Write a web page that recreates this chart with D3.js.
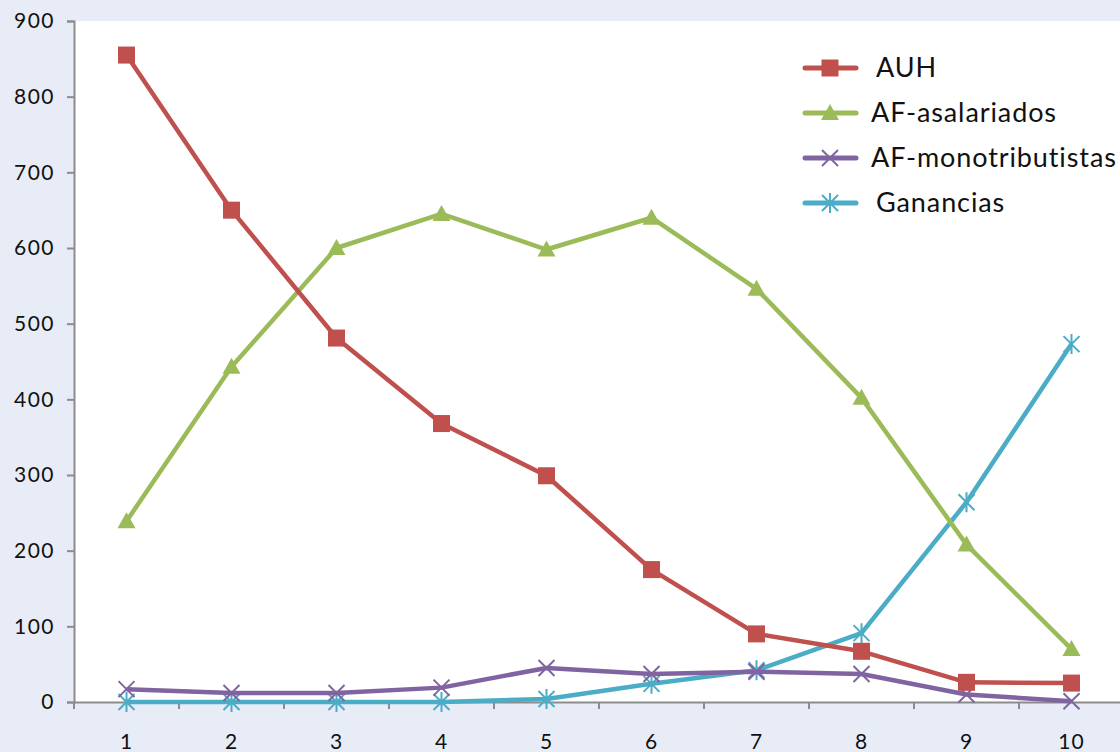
<!DOCTYPE html>
<html><head><meta charset="utf-8">
<script src="https://cdn.jsdelivr.net/npm/d3@7"></script>
<style>
html,body{margin:0;padding:0;background:#e8ecf6;}
svg{display:block;}
text{font-family:"Lato","Noto Sans",sans-serif;fill:#111;}
</style></head><body>
<svg id="c" width="1120" height="752"></svg>
<script>
const categories = ["1","2","3","4","5","6","7","8","9","10"];
const yTicks = [0,100,200,300,400,500,600,700,800,900];
const seriesNames = ["AUH","AF-asalariados","AF-monotributistas","Ganancias"];
const auh = [855,650,481,368,299,175,90,67,26,25];
const asalariados = [239,443,600,645,598,640,546,402,208,70];
const monotributistas = [17,12,12,19,45,37,40,37,10,1];
const ganancias = [0,0,0,0,4,24,42,91,264,473];
const colors = ["#c0504d","#9bbb59","#8064a2","#4bacc6"];
const markers = ["square","triangle","x","asterisk"];

const svg = d3.select("#c");
const mLeft = 74, mTop = 21, mBottom = 702, mRight = 1124;
const x = d3.scaleBand().domain(categories).range([mLeft, mRight]);
const y = d3.scaleLinear().domain([0,900]).range([mBottom, mTop]);

svg.append("rect").attr("x",mLeft).attr("y",mTop).attr("width",mRight-mLeft).attr("height",mBottom-mTop).attr("fill","#fff");

// y axis
const ya = svg.append("g").attr("transform",`translate(${mLeft},0)`)
  .call(d3.axisLeft(y).tickValues(yTicks).tickSize(7).tickPadding(12));
ya.select(".domain").attr("stroke","#8c8c8c").attr("stroke-width",2);
ya.selectAll(".tick line").attr("stroke","#8c8c8c").attr("stroke-width",2);
ya.selectAll("text").attr("font-size",21).attr("fill","#111").attr("letter-spacing","1.5px").style("font-family","Lato, sans-serif");

// x axis
const xa = svg.append("g").attr("transform",`translate(0,${mBottom})`)
  .call(d3.axisBottom(x).tickSize(0).tickPadding(32));
xa.select(".domain").attr("stroke","#8c8c8c").attr("stroke-width",2);
xa.selectAll("text").attr("font-size",21).attr("fill","#111").attr("letter-spacing","1px").style("font-family","Lato, sans-serif");
// tick marks between categories
const bounds = categories.map(c => x(c)).concat([mRight]);
svg.append("g").selectAll("line").data(bounds).join("line")
  .attr("x1",d=>d).attr("x2",d=>d).attr("y1",mBottom).attr("y2",mBottom+7)
  .attr("stroke","#8c8c8c").attr("stroke-width",2);

function drawMarker(g, type, color, cx, cy) {
  if (type === "square") {
    g.append("rect").attr("x",cx-8.5).attr("y",cy-8.5).attr("width",17).attr("height",17).attr("fill",color);
  } else if (type === "triangle") {
    g.append("path").attr("d",`M${cx},${cy-9}L${cx+9},${cy+7}L${cx-9},${cy+7}Z`).attr("fill",color);
  } else if (type === "x") {
    g.append("path").attr("d",`M${cx-8},${cy-8}L${cx+8},${cy+8}M${cx-8},${cy+8}L${cx+8},${cy-8}`)
      .attr("stroke",color).attr("stroke-width",2).attr("fill","none");
  } else {
    g.append("path").attr("d",`M${cx-8},${cy-8}L${cx+8},${cy+8}M${cx-8},${cy+8}L${cx+8},${cy-8}M${cx},${cy-10}L${cx},${cy+10}`)
      .attr("stroke",color).attr("stroke-width",2).attr("fill","none");
  }
}

const allSeries = [auh, asalariados, monotributistas, ganancias];
const cxOf = c => x(c) + x.bandwidth()/2;
const line = d3.line().x((d,i)=>cxOf(categories[i])).y(d=>y(d));
[3,2,1,0].forEach(s => {
  const g = svg.append("g");
  g.append("path").datum(allSeries[s]).attr("d",line).attr("fill","none")
    .attr("stroke",colors[s]).attr("stroke-width",4.5).attr("stroke-linejoin","round");
  allSeries[s].forEach((v,i) => drawMarker(g, markers[s], colors[s], cxOf(categories[i]), y(v)));
});

// legend
const lg = svg.append("g");
seriesNames.forEach((n,i) => {
  const ly = 68 + i*45;
  const g = lg.append("g");
  g.append("line").attr("x1",805).attr("x2",856).attr("y1",ly).attr("y2",ly)
    .attr("stroke",colors[i]).attr("stroke-width",5).attr("stroke-linecap","round");
  drawMarker(g, markers[i], colors[i], 830, ly);
  g.append("text").attr("x", i===1||i===2 ? 871 : 876).attr("y",ly).attr("dy","0.35em")
    .attr("font-size",27).attr("letter-spacing","0.9px").text(n);
});
</script></body></html>
